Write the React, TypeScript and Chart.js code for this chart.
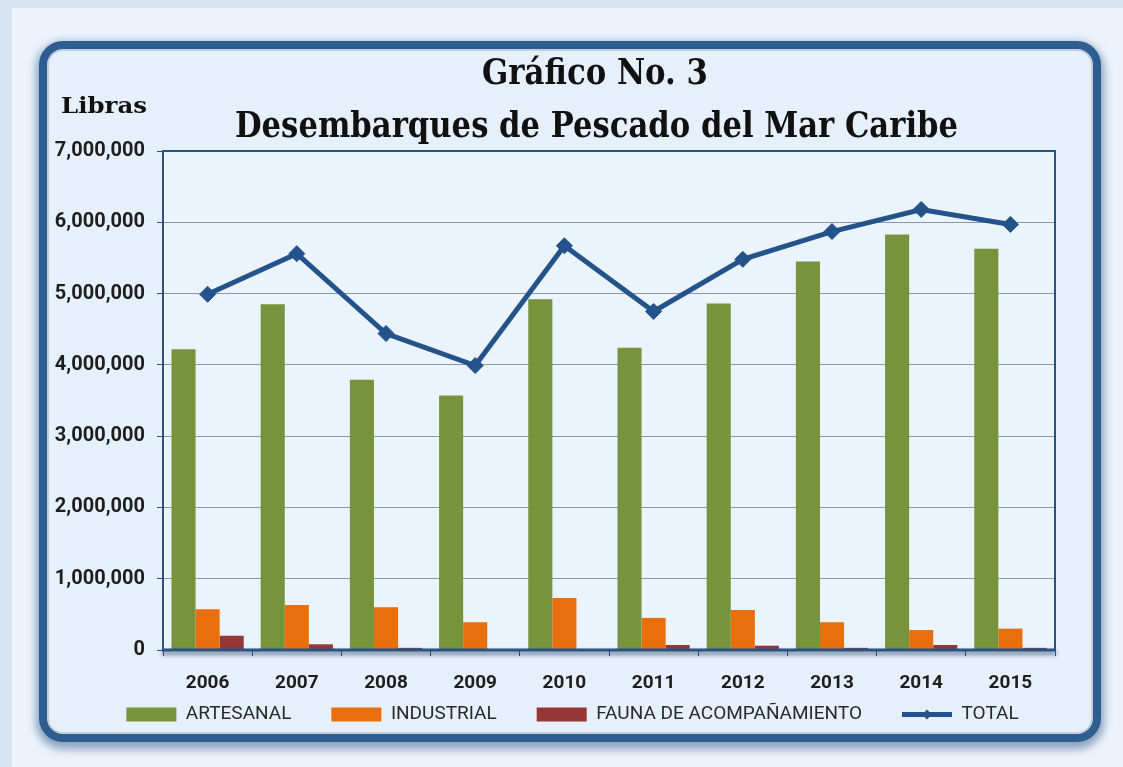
import React, { useEffect, useRef } from 'react';
import { Chart, registerables } from 'chart.js';
Chart.register(...registerables);

const years = ['2006', '2007', '2008', '2009', '2010', '2011', '2012', '2013', '2014', '2015'];
const artesanal = [4220000, 4850000, 3790000, 3570000, 4920000, 4240000, 4860000, 5450000, 5830000, 5630000];
const industrial = [570000, 630000, 600000, 390000, 730000, 450000, 560000, 390000, 280000, 300000];
const fauna = [200000, 80000, 30000, 5000, 5000, 70000, 60000, 30000, 70000, 30000];
const total = [4990000, 5560000, 4440000, 3990000, 5670000, 4750000, 5480000, 5870000, 6180000, 5970000];
const seriesNames = ['ARTESANAL', 'INDUSTRIAL', 'FAUNA DE ACOMPAÑAMIENTO', 'TOTAL'];
const titleLines = ['Gráfico No. 3', 'Desembarques de Pescado del Mar Caribe'];
const yAxisTitle = 'Libras';
const yMax = 7000000;
const yStep = 1000000;

const C_GREEN = '#77933c';
const C_ORANGE = '#e96f0c';
const C_RED = '#953735';
const C_TOTAL = '#23538a';
const C_FRAME = '#2b5282';

function drawFitted(ctx: CanvasRenderingContext2D, text: string, font: string, left: number, baseline: number, width: number) {
  ctx.save();
  ctx.font = font;
  const w = ctx.measureText(text).width;
  ctx.translate(left, baseline);
  ctx.scale(width / w, 1);
  ctx.textAlign = 'left';
  ctx.textBaseline = 'alphabetic';
  ctx.fillStyle = '#111';
  ctx.fillText(text, 0, 0);
  ctx.restore();
}

const framePlugin = {
  id: 'framePlugin',
  beforeDraw(chart: any) {
    const { ctx, chartArea } = chart;
    const { left, top, right, bottom } = chartArea;
    ctx.save();
    ctx.fillStyle = '#ebf3fc';
    ctx.fillRect(left, top, right - left, bottom - top);
    ctx.restore();
  },
  afterDatasetsDraw(chart: any) {
    const { ctx, chartArea } = chart;
    const { left, top, right, bottom } = chartArea;
    ctx.save();
    ctx.strokeStyle = C_FRAME;
    ctx.lineWidth = 2;
    ctx.beginPath();
    ctx.moveTo(left, bottom);
    ctx.lineTo(left, top);
    ctx.lineTo(right, top);
    ctx.lineTo(right, bottom);
    ctx.stroke();
    ctx.shadowColor = 'rgba(20,50,95,0.7)';
    ctx.shadowBlur = 4;
    ctx.shadowOffsetY = 3;
    ctx.lineWidth = 3;
    ctx.beginPath();
    ctx.moveTo(left - 1, bottom);
    ctx.lineTo(right + 1, bottom);
    ctx.stroke();
    ctx.restore();
  },
  afterDraw(chart: any) {
    const { ctx } = chart;
    drawFitted(ctx, titleLines[0], 'bold 35px "DejaVu Serif"', 435, 35, 226);
    drawFitted(ctx, titleLines[1], 'bold 35px "DejaVu Serif"', 188, 88, 723);
    drawFitted(ctx, yAxisTitle, 'bold 22px "DejaVu Serif"', 14, 64, 86);
    const legend = chart.legend;
    if (legend && legend.legendHitBoxes && legend.legendHitBoxes[3]) {
      const hb = legend.legendHitBoxes[3];
      const cx = hb.left + 25;
      const cy = hb.top + 9.5;
      const r = 5;
      ctx.save();
      ctx.fillStyle = C_TOTAL;
      ctx.beginPath();
      ctx.moveTo(cx, cy - r);
      ctx.lineTo(cx + r, cy);
      ctx.lineTo(cx, cy + r);
      ctx.lineTo(cx - r, cy);
      ctx.closePath();
      ctx.fill();
      ctx.restore();
    }
  },
};

export default function App() {
  const ref = useRef<HTMLCanvasElement>(null);
  useEffect(() => {
    document.body.style.margin = '0';
    const canvas = ref.current!;
    const chart = new Chart(canvas, {
      type: 'bar',
      data: {
        labels: years,
        datasets: [
          { label: seriesNames[0], data: artesanal, backgroundColor: C_GREEN, borderWidth: 0 },
          { label: seriesNames[1], data: industrial, backgroundColor: C_ORANGE, borderWidth: 0 },
          { label: seriesNames[2], data: fauna, backgroundColor: C_RED, borderWidth: 0 },
          {
            type: 'line',
            label: seriesNames[3],
            data: total,
            borderColor: C_TOTAL,
            backgroundColor: C_TOTAL,
            borderWidth: 5,
            pointStyle: 'rectRot',
            pointRadius: 8,
            pointBackgroundColor: C_TOTAL,
            pointBorderColor: C_TOTAL,
            pointBorderWidth: 1,
            tension: 0,
          } as any,
        ],
      },
      options: {
        responsive: false,
        animation: false,
        devicePixelRatio: 1,
        datasets: { bar: { barPercentage: 1, categoryPercentage: 0.81 } },
        layout: { padding: { left: 5, right: 0, top: 102, bottom: 0 } },
        plugins: {
          title: { display: false },
          tooltip: { enabled: false },
          legend: {
            position: 'bottom',
            labels: {
              usePointStyle: true,
              pointStyleWidth: 50,
              boxHeight: 14,
              padding: 40,
              color: '#2a2a2a',
              font: { family: 'Roboto', size: 19 },
              generateLabels: (ch: any) => {
                const items = (Chart.defaults.plugins.legend.labels as any).generateLabels(ch);
                return items.map((it: any) => {
                  const isLine = (ch.data.datasets[it.datasetIndex] as any).type === 'line';
                  return { ...it, pointStyle: isLine ? 'line' : 'rect', lineWidth: isLine ? 5 : 0 };
                });
              },
            },
          },
        },
        scales: {
          x: {
            grid: { offset: true, drawOnChartArea: false, tickLength: 6, color: C_FRAME, lineWidth: 1 },
            border: { display: false },
            ticks: { mirror: true, padding: -45, color: '#1e1e1e', font: { family: 'Roboto', size: 19, weight: 'bold' } },
            afterFit: (s: any) => { s.height = 15; },
          },
          y: {
            min: 0,
            max: yMax,
            grid: { color: '#8c98a5', lineWidth: 1, tickColor: C_FRAME, tickLength: 6 },
            border: { display: false },
            ticks: {
              stepSize: yStep,
              padding: 12,
              color: '#1e1e1e',
              font: { family: 'Roboto', size: 20, weight: 'bold' },
              callback: (v: any) => Number(v).toLocaleString('en-US'),
            },
            afterFit: (s: any) => { s.width = 111; },
          },
          y2: {
            position: 'right',
            display: true,
            grid: { display: false },
            border: { display: false },
            ticks: { display: false },
            afterFit: (s: any) => { s.width = 38; },
          },
        },
      } as any,
      plugins: [framePlugin],
    });
    return () => chart.destroy();
  }, []);

  return (
    <div style={{ position: 'relative', width: 1123, height: 767, background: '#d6e3f0', overflow: 'hidden' }}>
      <div style={{ position: 'absolute', left: 12, top: 8, right: 0, bottom: 0, background: '#ecf3fb' }} />
      <div
        style={{
          position: 'absolute',
          left: 39,
          top: 41,
          width: 1062,
          height: 701,
          boxSizing: 'border-box',
          border: '8px solid #2e5d91',
          borderRadius: 24,
          background: '#e6f0fa',
          boxShadow: '0 4px 9px 3px rgba(40,80,130,0.5), inset 0 0 0 2px #c3ceda',
        }}
      >
        <canvas ref={ref} width={1046} height={685} style={{ position: 'absolute', left: 0, top: 0, width: 1046, height: 685 }} />
      </div>
    </div>
  );
}
